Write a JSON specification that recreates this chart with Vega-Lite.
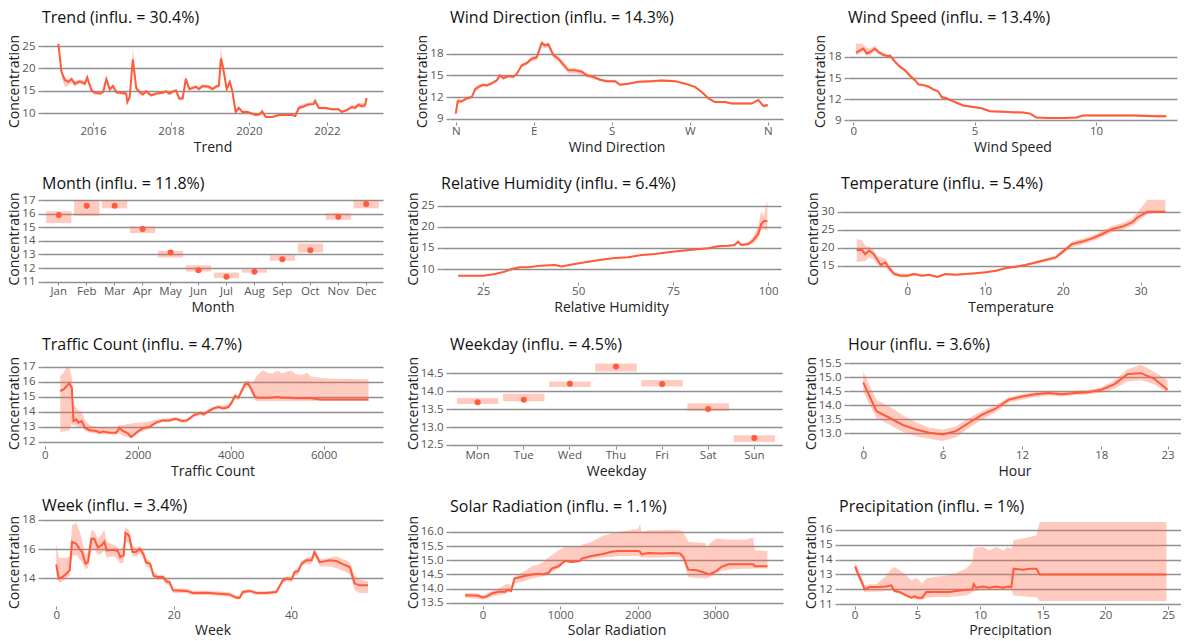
{
"$schema": "https://vega.github.io/schema/vega-lite/v6.json",
"background": "white",
"padding": {"left": 7, "top": 10, "right": 0, "bottom": 0},
"config": {
 "font": "Open Sans",
 "view": {"stroke": null},
 "title": {"fontSize": 16, "fontWeight": "normal", "anchor": "start", "frame": "group", "color": "#111111", "offset": 8},
 "axis": {"labelFontSize": 11.5, "labelColor": "#555555", "titleFontSize": 14, "titleFontWeight": "normal", "titleColor": "#222222", "domain": false, "labelOverlap": false},
 "axisX": {"grid": false, "ticks": true, "tickSize": 3, "tickColor": "#888888", "labelPadding": 0, "titlePadding": 4, "labelAngle": 0},
 "axisY": {"grid": true, "gridColor": "#8f8f8f", "gridWidth": 1.4, "ticks": true, "tickSize": 4, "tickColor": "#8f8f8f", "tickWidth": 1.4, "labelPadding": 3, "titlePadding": 0}
},
"datasets": {
 "trend": [
  {"x":2015.11,"y":25.5,"lo":25.1,"hi":25.8},{"x":2015.19,"y":19.2,"lo":18.0,"hi":19.8},{"x":2015.28,"y":17.4,"lo":15.8,"hi":17.9},{"x":2015.36,"y":17.0,"lo":16.2,"hi":17.6},{"x":2015.45,"y":17.6,"lo":16.8,"hi":18.1},{"x":2015.53,"y":16.6,"lo":16.0,"hi":17.1},{"x":2015.66,"y":17.1,"lo":16.6,"hi":17.6},{"x":2015.79,"y":16.6,"lo":16.1,"hi":17.2},{"x":2015.85,"y":18.0,"lo":17.2,"hi":18.8},{"x":2015.96,"y":15.1,"lo":14.7,"hi":15.6},{"x":2016.04,"y":14.6,"lo":14.2,"hi":15.0},{"x":2016.17,"y":14.4,"lo":14.0,"hi":14.8},{"x":2016.26,"y":14.8,"lo":14.4,"hi":15.2},{"x":2016.34,"y":17.6,"lo":16.8,"hi":18.6},{"x":2016.43,"y":15.3,"lo":14.9,"hi":15.8},{"x":2016.51,"y":16.1,"lo":15.6,"hi":16.6},{"x":2016.6,"y":14.7,"lo":14.3,"hi":15.1},{"x":2016.77,"y":14.5,"lo":14.1,"hi":14.9},{"x":2016.85,"y":14.4,"lo":14.0,"hi":14.8},{"x":2016.88,"y":12.5,"lo":12.1,"hi":13.0},{"x":2016.94,"y":13.6,"lo":13.1,"hi":14.2},{"x":2017.02,"y":22.0,"lo":20.5,"hi":24.8},{"x":2017.11,"y":15.5,"lo":15.0,"hi":16.2},{"x":2017.19,"y":14.8,"lo":14.3,"hi":15.3},{"x":2017.28,"y":14.2,"lo":13.8,"hi":14.7},{"x":2017.36,"y":14.9,"lo":14.5,"hi":15.3},{"x":2017.49,"y":14.0,"lo":13.7,"hi":14.4},{"x":2017.62,"y":14.4,"lo":14.1,"hi":14.7},{"x":2017.79,"y":14.6,"lo":14.3,"hi":14.9},{"x":2017.87,"y":14.9,"lo":14.5,"hi":15.2},{"x":2017.96,"y":14.4,"lo":14.0,"hi":14.8},{"x":2018.04,"y":14.8,"lo":14.4,"hi":15.2},{"x":2018.13,"y":15.1,"lo":14.7,"hi":15.5},{"x":2018.21,"y":13.3,"lo":12.9,"hi":13.7},{"x":2018.3,"y":13.3,"lo":12.9,"hi":13.7},{"x":2018.38,"y":17.7,"lo":16.9,"hi":18.5},{"x":2018.47,"y":15.4,"lo":15.0,"hi":15.9},{"x":2018.64,"y":15.9,"lo":15.5,"hi":16.3},{"x":2018.72,"y":15.4,"lo":15.0,"hi":15.8},{"x":2018.81,"y":16.1,"lo":15.7,"hi":16.5},{"x":2018.98,"y":15.9,"lo":15.5,"hi":16.3},{"x":2019.06,"y":15.4,"lo":15.0,"hi":15.8},{"x":2019.15,"y":15.9,"lo":15.5,"hi":16.3},{"x":2019.23,"y":16.2,"lo":15.8,"hi":16.7},{"x":2019.28,"y":22.2,"lo":20.8,"hi":24.8},{"x":2019.34,"y":20.0,"lo":19.0,"hi":21.2},{"x":2019.43,"y":15.4,"lo":14.9,"hi":16.0},{"x":2019.51,"y":17.0,"lo":16.4,"hi":17.6},{"x":2019.57,"y":15.1,"lo":14.6,"hi":15.6},{"x":2019.66,"y":10.3,"lo":10.0,"hi":10.7},{"x":2019.74,"y":11.2,"lo":10.8,"hi":11.5},{"x":2019.83,"y":10.3,"lo":10.0,"hi":10.6},{"x":2019.96,"y":10.3,"lo":10.0,"hi":10.6},{"x":2020.09,"y":9.9,"lo":9.6,"hi":10.2},{"x":2020.17,"y":9.6,"lo":9.3,"hi":9.9},{"x":2020.26,"y":9.7,"lo":9.4,"hi":10.0},{"x":2020.34,"y":10.4,"lo":9.9,"hi":11.2},{"x":2020.43,"y":9.2,"lo":9.0,"hi":9.4},{"x":2020.6,"y":9.2,"lo":9.0,"hi":9.4},{"x":2020.77,"y":9.6,"lo":9.4,"hi":9.8},{"x":2021.11,"y":9.6,"lo":9.4,"hi":9.8},{"x":2021.19,"y":9.4,"lo":9.2,"hi":9.6},{"x":2021.28,"y":11.2,"lo":10.8,"hi":11.8},{"x":2021.4,"y":11.5,"lo":11.1,"hi":12.0},{"x":2021.49,"y":11.9,"lo":11.5,"hi":12.3},{"x":2021.58,"y":12.0,"lo":11.6,"hi":12.4},{"x":2021.66,"y":12.1,"lo":11.7,"hi":12.5},{"x":2021.7,"y":12.8,"lo":12.3,"hi":13.2},{"x":2021.79,"y":11.2,"lo":10.9,"hi":11.5},{"x":2021.96,"y":11.2,"lo":10.9,"hi":11.5},{"x":2022.13,"y":10.9,"lo":10.6,"hi":11.2},{"x":2022.3,"y":10.9,"lo":10.6,"hi":11.2},{"x":2022.38,"y":10.3,"lo":10.0,"hi":10.6},{"x":2022.51,"y":10.7,"lo":10.4,"hi":11.0},{"x":2022.64,"y":11.4,"lo":11.0,"hi":11.9},{"x":2022.72,"y":11.2,"lo":10.8,"hi":11.7},{"x":2022.81,"y":11.9,"lo":11.4,"hi":12.4},{"x":2022.89,"y":11.6,"lo":11.1,"hi":12.2},{"x":2022.98,"y":11.8,"lo":11.2,"hi":12.4},{"x":2023.02,"y":13.4,"lo":12.8,"hi":13.8}
 ],
 "wdir": [
  {"x":0,"y":9.7,"lo":9.4,"hi":10.2},{"x":2.3,"y":11.4,"lo":11.0,"hi":11.9},{"x":6.9,"y":11.4,"lo":11.2,"hi":11.6},{"x":12.7,"y":11.8,"lo":11.6,"hi":12.0},{"x":18.5,"y":12.0,"lo":11.8,"hi":12.2},{"x":22.3,"y":13.06,"lo":12.7,"hi":13.4},{"x":26.2,"y":13.4,"lo":13.1,"hi":13.7},{"x":31.9,"y":13.7,"lo":13.5,"hi":13.9},{"x":35.8,"y":13.6,"lo":13.4,"hi":13.8},{"x":41.5,"y":13.9,"lo":13.7,"hi":14.1},{"x":47.3,"y":14.3,"lo":14.1,"hi":14.5},{"x":51.2,"y":15.0,"lo":14.7,"hi":15.2},{"x":55,"y":14.6,"lo":14.4,"hi":14.8},{"x":60.8,"y":14.9,"lo":14.7,"hi":15.1},{"x":66.5,"y":14.8,"lo":14.6,"hi":15.0},{"x":70.4,"y":15.2,"lo":15.0,"hi":15.4},{"x":76.2,"y":16.4,"lo":16.1,"hi":16.6},{"x":81.9,"y":16.7,"lo":16.4,"hi":16.9},{"x":87.7,"y":17.3,"lo":17.0,"hi":17.6},{"x":93.5,"y":17.5,"lo":17.1,"hi":17.8},{"x":99.2,"y":19.5,"lo":19.1,"hi":19.8},{"x":103,"y":19.15,"lo":18.8,"hi":19.5},{"x":106.9,"y":19.3,"lo":18.9,"hi":19.6},{"x":112.7,"y":17.8,"lo":17.4,"hi":18.1},{"x":118.5,"y":17.3,"lo":16.9,"hi":17.6},{"x":124.2,"y":16.5,"lo":16.1,"hi":16.9},{"x":130,"y":15.7,"lo":15.3,"hi":16.1},{"x":137.7,"y":15.7,"lo":15.3,"hi":16.0},{"x":145.4,"y":15.5,"lo":15.1,"hi":15.8},{"x":151.2,"y":15.0,"lo":14.7,"hi":15.3},{"x":158.8,"y":14.8,"lo":14.5,"hi":15.0},{"x":166.5,"y":14.4,"lo":14.2,"hi":14.6},{"x":174.2,"y":14.2,"lo":14.0,"hi":14.4},{"x":183.8,"y":14.2,"lo":14.0,"hi":14.4},{"x":189.6,"y":13.7,"lo":13.5,"hi":13.9},{"x":199.2,"y":13.85,"lo":13.7,"hi":14.0},{"x":210.8,"y":14.1,"lo":13.95,"hi":14.25},{"x":226,"y":14.2,"lo":14.05,"hi":14.35},{"x":237.7,"y":14.3,"lo":14.15,"hi":14.45},{"x":253,"y":14.2,"lo":14.05,"hi":14.35},{"x":264.6,"y":13.85,"lo":13.7,"hi":14.0},{"x":276,"y":13.4,"lo":13.25,"hi":13.55},{"x":283.8,"y":12.7,"lo":12.55,"hi":12.85},{"x":291.5,"y":11.8,"lo":11.65,"hi":11.95},{"x":299.2,"y":11.3,"lo":11.15,"hi":11.45},{"x":310.8,"y":11.3,"lo":11.15,"hi":11.45},{"x":318.5,"y":11.1,"lo":10.95,"hi":11.25},{"x":330,"y":11.1,"lo":10.95,"hi":11.25},{"x":341.5,"y":11.1,"lo":10.95,"hi":11.25},{"x":349.2,"y":11.6,"lo":11.4,"hi":11.8},{"x":355,"y":10.75,"lo":10.55,"hi":10.95},{"x":360,"y":10.9,"lo":10.7,"hi":11.1}
 ],
 "wspd": [
  {"x":0.11,"y":18.62,"lo":18.2,"hi":19.9},{"x":0.27,"y":18.95,"lo":18.5,"hi":19.9},{"x":0.41,"y":19.2,"lo":18.8,"hi":19.8},{"x":0.55,"y":18.5,"lo":18.2,"hi":19.3},{"x":0.69,"y":18.7,"lo":18.4,"hi":19.2},{"x":0.89,"y":19.2,"lo":18.9,"hi":19.6},{"x":1.03,"y":18.7,"lo":18.4,"hi":19.0},{"x":1.24,"y":18.3,"lo":18.0,"hi":18.6},{"x":1.44,"y":18.1,"lo":17.9,"hi":18.3},{"x":1.51,"y":18.2,"lo":18.0,"hi":18.4},{"x":1.72,"y":17.3,"lo":17.1,"hi":17.6},{"x":1.92,"y":16.6,"lo":16.4,"hi":16.9},{"x":2.13,"y":16.1,"lo":15.9,"hi":16.3},{"x":2.34,"y":15.3,"lo":15.1,"hi":15.6},{"x":2.54,"y":14.7,"lo":14.5,"hi":14.9},{"x":2.68,"y":14.1,"lo":13.9,"hi":14.3},{"x":2.88,"y":14.0,"lo":13.8,"hi":14.2},{"x":3.09,"y":13.8,"lo":13.6,"hi":14.0},{"x":3.3,"y":13.4,"lo":13.2,"hi":13.6},{"x":3.5,"y":13.1,"lo":12.9,"hi":13.3},{"x":3.64,"y":12.3,"lo":12.1,"hi":12.5},{"x":3.85,"y":12.1,"lo":11.9,"hi":12.3},{"x":4.05,"y":11.8,"lo":11.65,"hi":11.95},{"x":4.26,"y":11.5,"lo":11.35,"hi":11.65},{"x":4.53,"y":11.1,"lo":10.95,"hi":11.25},{"x":4.95,"y":10.9,"lo":10.75,"hi":11.05},{"x":5.29,"y":10.7,"lo":10.55,"hi":10.85},{"x":5.63,"y":10.3,"lo":10.15,"hi":10.45},{"x":6.18,"y":10.2,"lo":10.05,"hi":10.35},{"x":7.0,"y":10.1,"lo":9.95,"hi":10.25},{"x":7.28,"y":9.95,"lo":9.8,"hi":10.1},{"x":7.55,"y":9.4,"lo":9.25,"hi":9.55},{"x":8.1,"y":9.33,"lo":9.2,"hi":9.45},{"x":8.65,"y":9.33,"lo":9.2,"hi":9.45},{"x":9.2,"y":9.4,"lo":9.25,"hi":9.55},{"x":9.48,"y":9.7,"lo":9.55,"hi":9.85},{"x":10.44,"y":9.7,"lo":9.55,"hi":9.85},{"x":11.54,"y":9.7,"lo":9.55,"hi":9.9},{"x":12.5,"y":9.57,"lo":9.4,"hi":9.8},{"x":12.9,"y":9.57,"lo":9.4,"hi":9.8}
 ],
 "month": [
  {"c":"Jan","y":15.9,"lo":15.31,"hi":16.17},{"c":"Feb","y":16.58,"lo":15.85,"hi":16.95},{"c":"Mar","y":16.58,"lo":16.39,"hi":16.95},{"c":"Apr","y":14.87,"lo":14.57,"hi":15.06},{"c":"May","y":13.15,"lo":12.78,"hi":13.27},{"c":"Jun","y":11.85,"lo":11.75,"hi":12.2},{"c":"Jul","y":11.36,"lo":11.26,"hi":11.67},{"c":"Aug","y":11.73,"lo":11.67,"hi":11.9},{"c":"Sep","y":12.66,"lo":12.54,"hi":12.95},{"c":"Oct","y":13.32,"lo":13.15,"hi":13.81},{"c":"Nov","y":15.77,"lo":15.55,"hi":16.02},{"c":"Dec","y":16.7,"lo":16.39,"hi":16.95}
 ],
 "rh": [
  {"x":18.4,"y":8.42,"lo":8.3,"hi":8.55},{"x":21.9,"y":8.42,"lo":8.3,"hi":8.55},{"x":25,"y":8.42,"lo":8.3,"hi":8.55},{"x":28.1,"y":8.8,"lo":8.65,"hi":8.95},{"x":30.7,"y":9.37,"lo":9.2,"hi":9.5},{"x":32.5,"y":10.0,"lo":9.85,"hi":10.15},{"x":34.6,"y":10.4,"lo":10.25,"hi":10.55},{"x":36.8,"y":10.4,"lo":10.25,"hi":10.55},{"x":40.3,"y":10.8,"lo":10.65,"hi":10.95},{"x":43.9,"y":10.95,"lo":10.8,"hi":11.1},{"x":45.6,"y":10.6,"lo":10.45,"hi":10.75},{"x":49.1,"y":11.2,"lo":11.05,"hi":11.35},{"x":52.6,"y":11.7,"lo":11.55,"hi":11.85},{"x":56.1,"y":12.2,"lo":12.05,"hi":12.35},{"x":59.6,"y":12.6,"lo":12.45,"hi":12.75},{"x":63.2,"y":12.8,"lo":12.65,"hi":12.95},{"x":66.7,"y":13.3,"lo":13.15,"hi":13.45},{"x":70.2,"y":13.55,"lo":13.4,"hi":13.7},{"x":73.7,"y":13.95,"lo":13.8,"hi":14.1},{"x":77.2,"y":14.3,"lo":14.15,"hi":14.45},{"x":80.7,"y":14.6,"lo":14.45,"hi":14.75},{"x":84.2,"y":14.9,"lo":14.75,"hi":15.05},{"x":86.8,"y":15.4,"lo":15.2,"hi":15.6},{"x":89.5,"y":15.5,"lo":15.3,"hi":15.7},{"x":91.2,"y":15.7,"lo":15.5,"hi":15.9},{"x":92.1,"y":16.5,"lo":16.1,"hi":16.9},{"x":92.9,"y":15.7,"lo":15.4,"hi":16.0},{"x":94.7,"y":15.9,"lo":15.5,"hi":16.3},{"x":96.0,"y":16.7,"lo":16.0,"hi":17.6},{"x":97.4,"y":18.3,"lo":17.2,"hi":20.0},{"x":98.2,"y":20.7,"lo":19.2,"hi":23.8},{"x":98.9,"y":21.4,"lo":19.5,"hi":22.5},{"x":99.3,"y":21.4,"lo":19.3,"hi":24.5},{"x":99.8,"y":21.4,"lo":19.0,"hi":26.5}
 ],
 "temp": [
  {"x":-6.5,"y":19.35,"lo":16.0,"hi":22.4},{"x":-5.8,"y":19.35,"lo":16.2,"hi":22.0},{"x":-5.4,"y":18.2,"lo":16.3,"hi":20.5},{"x":-4.9,"y":19.2,"lo":17.2,"hi":20.3},{"x":-4.3,"y":18.2,"lo":16.8,"hi":19.3},{"x":-3.9,"y":16.85,"lo":15.6,"hi":17.8},{"x":-3.4,"y":15.2,"lo":14.5,"hi":17.3},{"x":-2.8,"y":15.9,"lo":14.6,"hi":17.0},{"x":-2.4,"y":14.5,"lo":13.6,"hi":15.5},{"x":-1.7,"y":12.7,"lo":12.2,"hi":13.4},{"x":-0.86,"y":12.2,"lo":11.8,"hi":12.8},{"x":0,"y":12.2,"lo":11.8,"hi":12.7},{"x":0.86,"y":12.7,"lo":12.3,"hi":13.1},{"x":1.9,"y":12.2,"lo":11.9,"hi":12.6},{"x":2.8,"y":12.5,"lo":12.2,"hi":12.8},{"x":3.9,"y":11.9,"lo":11.6,"hi":12.2},{"x":4.9,"y":12.7,"lo":12.4,"hi":13.0},{"x":6.2,"y":12.5,"lo":12.2,"hi":12.8},{"x":7.5,"y":12.7,"lo":12.4,"hi":13.0},{"x":8.8,"y":12.9,"lo":12.6,"hi":13.2},{"x":10.1,"y":13.15,"lo":12.85,"hi":13.45},{"x":11.4,"y":13.6,"lo":13.3,"hi":13.9},{"x":12.6,"y":14.3,"lo":14.0,"hi":14.6},{"x":13.9,"y":14.7,"lo":14.4,"hi":15.0},{"x":15.2,"y":15.2,"lo":14.9,"hi":15.5},{"x":16.5,"y":15.9,"lo":15.5,"hi":16.3},{"x":17.8,"y":16.6,"lo":16.2,"hi":17.0},{"x":19.1,"y":17.3,"lo":16.8,"hi":17.8},{"x":19.9,"y":18.7,"lo":18.1,"hi":19.3},{"x":21.2,"y":21.0,"lo":20.2,"hi":21.7},{"x":22.5,"y":21.7,"lo":20.9,"hi":22.5},{"x":23.8,"y":22.6,"lo":21.8,"hi":23.4},{"x":25.1,"y":23.8,"lo":23.0,"hi":24.7},{"x":26.4,"y":25.2,"lo":24.3,"hi":26.1},{"x":27.6,"y":25.8,"lo":24.9,"hi":26.8},{"x":28.9,"y":27.0,"lo":26.0,"hi":28.0},{"x":29.6,"y":28.4,"lo":27.2,"hi":29.8},{"x":30.9,"y":30.0,"lo":29.3,"hi":33.3},{"x":33.2,"y":30.0,"lo":30.0,"hi":33.3}
 ],
 "traffic": [
  {"x":333,"y":15.38,"lo":12.6,"hi":16.38},{"x":404,"y":15.49,"lo":12.7,"hi":16.6},{"x":475,"y":15.71,"lo":12.7,"hi":17.0},{"x":525,"y":15.9,"lo":12.8,"hi":17.0},{"x":582,"y":15.6,"lo":13.2,"hi":16.3},{"x":617,"y":13.38,"lo":13.04,"hi":14.49},{"x":674,"y":13.49,"lo":13.1,"hi":14.3},{"x":723,"y":13.27,"lo":13.0,"hi":14.1},{"x":794,"y":13.38,"lo":13.0,"hi":14.0},{"x":865,"y":12.93,"lo":12.75,"hi":13.4},{"x":972,"y":12.76,"lo":12.6,"hi":13.1},{"x":1113,"y":12.71,"lo":12.53,"hi":12.98},{"x":1184,"y":12.6,"lo":12.5,"hi":12.9},{"x":1255,"y":12.67,"lo":12.5,"hi":12.95},{"x":1397,"y":12.6,"lo":12.5,"hi":12.95},{"x":1539,"y":12.6,"lo":12.5,"hi":12.95},{"x":1610,"y":12.93,"lo":12.55,"hi":13.1},{"x":1681,"y":12.71,"lo":12.4,"hi":13.1},{"x":1787,"y":12.56,"lo":12.3,"hi":13.2},{"x":1858,"y":12.31,"lo":12.25,"hi":13.2},{"x":1929,"y":12.49,"lo":12.35,"hi":13.25},{"x":2035,"y":12.76,"lo":12.6,"hi":13.27},{"x":2106,"y":12.89,"lo":12.7,"hi":13.3},{"x":2248,"y":12.98,"lo":12.85,"hi":13.35},{"x":2390,"y":13.27,"lo":13.15,"hi":13.45},{"x":2532,"y":13.42,"lo":13.3,"hi":13.55},{"x":2674,"y":13.42,"lo":13.3,"hi":13.55},{"x":2816,"y":13.53,"lo":13.42,"hi":13.65},{"x":2957,"y":13.38,"lo":13.27,"hi":13.5},{"x":3064,"y":13.42,"lo":13.3,"hi":13.55},{"x":3206,"y":13.76,"lo":13.65,"hi":13.9},{"x":3348,"y":13.93,"lo":13.8,"hi":14.05},{"x":3418,"y":13.82,"lo":13.7,"hi":13.95},{"x":3525,"y":14.04,"lo":13.92,"hi":14.16},{"x":3631,"y":14.22,"lo":14.1,"hi":14.35},{"x":3738,"y":14.31,"lo":14.2,"hi":14.45},{"x":3844,"y":14.22,"lo":14.1,"hi":14.4},{"x":3950,"y":14.31,"lo":14.2,"hi":14.5},{"x":4021,"y":14.6,"lo":14.45,"hi":14.8},{"x":4092,"y":15.04,"lo":14.9,"hi":15.25},{"x":4163,"y":14.93,"lo":14.8,"hi":15.1},{"x":4220,"y":15.27,"lo":15.1,"hi":15.5},{"x":4305,"y":15.82,"lo":15.6,"hi":16.04},{"x":4376,"y":15.87,"lo":15.65,"hi":16.1},{"x":4447,"y":15.49,"lo":15.2,"hi":15.9},{"x":4518,"y":15.04,"lo":14.8,"hi":16.16},{"x":4560,"y":14.95,"lo":14.71,"hi":16.38},{"x":4624,"y":14.93,"lo":14.71,"hi":16.6},{"x":4700,"y":14.93,"lo":14.71,"hi":16.76},{"x":4801,"y":14.93,"lo":14.71,"hi":16.6},{"x":4900,"y":14.95,"lo":14.71,"hi":16.55},{"x":5014,"y":14.98,"lo":14.71,"hi":16.75},{"x":5100,"y":14.93,"lo":14.71,"hi":16.55},{"x":5298,"y":14.93,"lo":14.71,"hi":16.75},{"x":5400,"y":14.9,"lo":14.71,"hi":16.5},{"x":5511,"y":14.89,"lo":14.71,"hi":16.45},{"x":5650,"y":14.89,"lo":14.71,"hi":16.6},{"x":5723,"y":14.89,"lo":14.71,"hi":16.35},{"x":5936,"y":14.82,"lo":14.71,"hi":16.25},{"x":6220,"y":14.82,"lo":14.71,"hi":16.2},{"x":6965,"y":14.82,"lo":14.71,"hi":16.16}
 ],
 "weekday": [
  {"c":"Mon","y":13.69,"lo":13.64,"hi":13.81},{"c":"Tue","y":13.76,"lo":13.72,"hi":13.93},{"c":"Wed","y":14.21,"lo":14.12,"hi":14.27},{"c":"Thu","y":14.69,"lo":14.55,"hi":14.77},{"c":"Fri","y":14.2,"lo":14.13,"hi":14.31},{"c":"Sat","y":13.5,"lo":13.45,"hi":13.66},{"c":"Sun","y":12.69,"lo":12.58,"hi":12.77}
 ],
 "hour": [
  {"x":0,"y":14.82,"lo":14.5,"hi":15.2},{"x":1,"y":13.79,"lo":13.55,"hi":14.2},{"x":2,"y":13.55,"lo":13.3,"hi":13.95},{"x":3,"y":13.3,"lo":13.05,"hi":13.65},{"x":4,"y":13.14,"lo":12.9,"hi":13.4},{"x":5,"y":13.02,"lo":12.8,"hi":13.2},{"x":6,"y":12.96,"lo":12.73,"hi":13.14},{"x":7,"y":13.08,"lo":12.85,"hi":13.25},{"x":8,"y":13.38,"lo":13.2,"hi":13.55},{"x":9,"y":13.67,"lo":13.5,"hi":13.8},{"x":10,"y":13.88,"lo":13.75,"hi":14.0},{"x":11,"y":14.2,"lo":14.1,"hi":14.3},{"x":12,"y":14.32,"lo":14.2,"hi":14.4},{"x":13,"y":14.4,"lo":14.3,"hi":14.48},{"x":14,"y":14.44,"lo":14.35,"hi":14.52},{"x":15,"y":14.4,"lo":14.32,"hi":14.48},{"x":16,"y":14.44,"lo":14.36,"hi":14.52},{"x":17,"y":14.47,"lo":14.4,"hi":14.55},{"x":18,"y":14.56,"lo":14.45,"hi":14.65},{"x":19,"y":14.76,"lo":14.6,"hi":14.9},{"x":20,"y":15.12,"lo":14.85,"hi":15.3},{"x":21,"y":15.15,"lo":14.9,"hi":15.45},{"x":22,"y":14.95,"lo":14.75,"hi":15.2},{"x":23,"y":14.56,"lo":14.45,"hi":14.9}
 ],
 "week": [
  {"x":0,"y":14.95,"lo":14.2,"hi":16.4},{"x":0.45,"y":13.98,"lo":13.7,"hi":15.4},{"x":1.1,"y":14.1,"lo":13.8,"hi":15.4},{"x":1.7,"y":14.3,"lo":14.0,"hi":15.4},{"x":2.3,"y":14.55,"lo":14.2,"hi":15.5},{"x":2.7,"y":16.5,"lo":15.5,"hi":17.6},{"x":3.4,"y":16.36,"lo":15.6,"hi":17.8},{"x":4.0,"y":16.0,"lo":15.3,"hi":17.2},{"x":4.4,"y":15.8,"lo":15.1,"hi":16.6},{"x":5.0,"y":15.0,"lo":14.6,"hi":15.6},{"x":5.4,"y":15.1,"lo":14.7,"hi":15.8},{"x":6.0,"y":16.7,"lo":15.9,"hi":17.3},{"x":6.5,"y":16.7,"lo":16.0,"hi":17.2},{"x":7.1,"y":16.1,"lo":15.6,"hi":16.7},{"x":7.7,"y":16.25,"lo":15.7,"hi":17.0},{"x":8.2,"y":16.5,"lo":15.9,"hi":17.3},{"x":8.6,"y":15.9,"lo":15.4,"hi":16.5},{"x":9.7,"y":15.95,"lo":15.5,"hi":16.3},{"x":10.5,"y":15.86,"lo":15.3,"hi":16.1},{"x":10.9,"y":15.45,"lo":15.0,"hi":15.9},{"x":11.5,"y":15.57,"lo":15.1,"hi":16.3},{"x":11.8,"y":17.1,"lo":16.5,"hi":17.5},{"x":12.4,"y":16.93,"lo":16.4,"hi":17.3},{"x":13.0,"y":15.8,"lo":15.5,"hi":16.2},{"x":13.6,"y":15.8,"lo":15.5,"hi":16.1},{"x":14.2,"y":16.0,"lo":15.7,"hi":16.2},{"x":14.8,"y":15.7,"lo":15.4,"hi":16.0},{"x":15.3,"y":15.1,"lo":14.8,"hi":15.4},{"x":16.0,"y":15.0,"lo":14.7,"hi":15.2},{"x":16.6,"y":14.16,"lo":13.95,"hi":14.4},{"x":17.3,"y":14.09,"lo":13.9,"hi":14.25},{"x":18.2,"y":14.09,"lo":13.9,"hi":14.25},{"x":18.75,"y":13.8,"lo":13.6,"hi":14.0},{"x":19.3,"y":13.75,"lo":13.55,"hi":13.9},{"x":19.9,"y":13.18,"lo":13.0,"hi":13.3},{"x":22.2,"y":13.14,"lo":13.0,"hi":13.3},{"x":23.3,"y":13.0,"lo":12.85,"hi":13.15},{"x":25.6,"y":13.02,"lo":12.87,"hi":13.15},{"x":27.8,"y":12.95,"lo":12.8,"hi":13.1},{"x":29.5,"y":12.9,"lo":12.75,"hi":13.05},{"x":30.7,"y":12.68,"lo":12.55,"hi":12.8},{"x":31.25,"y":12.68,"lo":12.55,"hi":12.85},{"x":31.8,"y":13.07,"lo":12.95,"hi":13.2},{"x":33.0,"y":13.14,"lo":13.0,"hi":13.25},{"x":34.1,"y":13.0,"lo":12.88,"hi":13.12},{"x":35.8,"y":13.0,"lo":12.88,"hi":13.12},{"x":37.5,"y":13.07,"lo":12.95,"hi":13.2},{"x":38.6,"y":13.86,"lo":13.7,"hi":14.05},{"x":39.2,"y":13.98,"lo":13.8,"hi":14.1},{"x":40.1,"y":13.93,"lo":13.75,"hi":14.1},{"x":40.6,"y":14.43,"lo":14.2,"hi":14.6},{"x":41.2,"y":14.48,"lo":14.25,"hi":14.7},{"x":41.8,"y":15.0,"lo":14.8,"hi":15.2},{"x":42.6,"y":15.23,"lo":15.0,"hi":15.4},{"x":43.5,"y":15.23,"lo":15.0,"hi":15.5},{"x":44.0,"y":15.8,"lo":15.5,"hi":16.0},{"x":44.9,"y":15.1,"lo":14.8,"hi":15.3},{"x":46.6,"y":15.23,"lo":14.8,"hi":15.4},{"x":47.7,"y":15.18,"lo":14.7,"hi":15.5},{"x":48.9,"y":14.95,"lo":14.5,"hi":15.3},{"x":50.0,"y":14.77,"lo":14.3,"hi":15.1},{"x":50.85,"y":13.64,"lo":13.2,"hi":14.2},{"x":51.7,"y":13.52,"lo":13.0,"hi":13.9},{"x":53.1,"y":13.52,"lo":13.0,"hi":13.8}
 ],
 "solar": [
  {"x":-223,"y":13.77,"lo":13.68,"hi":13.85},{"x":-94,"y":13.76,"lo":13.66,"hi":13.84},{"x":-51,"y":13.75,"lo":13.64,"hi":13.83},{"x":0,"y":13.69,"lo":13.62,"hi":13.75},{"x":56,"y":13.73,"lo":13.64,"hi":13.82},{"x":120,"y":13.83,"lo":13.72,"hi":13.92},{"x":206,"y":13.89,"lo":13.78,"hi":14.0},{"x":292,"y":13.89,"lo":13.8,"hi":14.15},{"x":335,"y":13.97,"lo":13.88,"hi":14.18},{"x":369,"y":13.92,"lo":13.9,"hi":14.1},{"x":412,"y":14.36,"lo":14.18,"hi":14.42},{"x":528,"y":14.44,"lo":14.25,"hi":14.6},{"x":635,"y":14.5,"lo":14.36,"hi":14.79},{"x":721,"y":14.53,"lo":14.4,"hi":14.85},{"x":785,"y":14.51,"lo":14.45,"hi":14.95},{"x":850,"y":14.56,"lo":14.5,"hi":15.1},{"x":892,"y":14.71,"lo":14.6,"hi":15.18},{"x":978,"y":14.79,"lo":14.7,"hi":15.35},{"x":1064,"y":14.98,"lo":14.94,"hi":15.47},{"x":1150,"y":14.94,"lo":14.9,"hi":15.47},{"x":1257,"y":14.98,"lo":14.94,"hi":15.47},{"x":1278,"y":15.06,"lo":14.98,"hi":15.55},{"x":1407,"y":15.15,"lo":15.05,"hi":15.65},{"x":1536,"y":15.21,"lo":15.1,"hi":15.85},{"x":1665,"y":15.3,"lo":15.12,"hi":15.95},{"x":1750,"y":15.33,"lo":15.15,"hi":16.0},{"x":1879,"y":15.33,"lo":15.15,"hi":16.05},{"x":2008,"y":15.33,"lo":15.15,"hi":16.1},{"x":2030,"y":15.3,"lo":15.12,"hi":16.3},{"x":2050,"y":15.21,"lo":15.1,"hi":16.0},{"x":2136,"y":15.26,"lo":15.1,"hi":16.06},{"x":2308,"y":15.24,"lo":15.1,"hi":16.06},{"x":2437,"y":15.26,"lo":15.12,"hi":16.08},{"x":2544,"y":15.24,"lo":15.1,"hi":16.06},{"x":2587,"y":15.12,"lo":15.0,"hi":16.0},{"x":2651,"y":14.67,"lo":14.41,"hi":15.65},{"x":2759,"y":14.65,"lo":14.38,"hi":15.63},{"x":2866,"y":14.56,"lo":14.36,"hi":15.61},{"x":2900,"y":14.52,"lo":14.38,"hi":15.41},{"x":2930,"y":14.51,"lo":14.4,"hi":15.6},{"x":3016,"y":14.63,"lo":14.55,"hi":15.77},{"x":3080,"y":14.77,"lo":14.62,"hi":15.75},{"x":3166,"y":14.86,"lo":14.67,"hi":15.73},{"x":3380,"y":14.86,"lo":14.7,"hi":15.72},{"x":3488,"y":14.86,"lo":14.7,"hi":15.8},{"x":3509,"y":14.79,"lo":14.71,"hi":15.35},{"x":3672,"y":14.79,"lo":14.71,"hi":15.33}
 ],
 "precip": [
  {"x":0.05,"y":13.54,"lo":13.28,"hi":13.84},{"x":0.27,"y":13.05,"lo":12.8,"hi":13.4},{"x":0.53,"y":12.6,"lo":12.3,"hi":12.9},{"x":0.8,"y":12.0,"lo":11.83,"hi":12.3},{"x":1.2,"y":12.16,"lo":11.85,"hi":12.35},{"x":1.73,"y":12.16,"lo":11.85,"hi":12.35},{"x":2.53,"y":12.2,"lo":11.9,"hi":12.9},{"x":2.93,"y":12.27,"lo":11.95,"hi":13.39},{"x":3.19,"y":11.89,"lo":11.85,"hi":13.5},{"x":3.59,"y":11.83,"lo":11.7,"hi":13.3},{"x":4.12,"y":11.6,"lo":11.5,"hi":12.94},{"x":4.52,"y":11.45,"lo":11.38,"hi":12.6},{"x":4.79,"y":11.54,"lo":11.35,"hi":12.75},{"x":5.05,"y":11.45,"lo":11.31,"hi":12.7},{"x":5.4,"y":11.45,"lo":11.31,"hi":12.38},{"x":5.72,"y":11.83,"lo":11.45,"hi":12.75},{"x":6.5,"y":11.83,"lo":11.49,"hi":12.85},{"x":7.58,"y":11.83,"lo":11.5,"hi":12.94},{"x":8.1,"y":11.89,"lo":11.55,"hi":13.1},{"x":8.9,"y":11.98,"lo":11.6,"hi":13.4},{"x":9.39,"y":12.0,"lo":11.8,"hi":13.84},{"x":9.5,"y":12.34,"lo":11.85,"hi":14.73},{"x":9.7,"y":12.12,"lo":11.9,"hi":14.8},{"x":10.24,"y":12.2,"lo":11.94,"hi":14.84},{"x":10.77,"y":12.12,"lo":11.94,"hi":14.6},{"x":11.3,"y":12.2,"lo":11.94,"hi":14.84},{"x":11.84,"y":12.12,"lo":11.94,"hi":14.6},{"x":12.23,"y":12.2,"lo":11.94,"hi":14.84},{"x":12.5,"y":12.16,"lo":11.94,"hi":14.7},{"x":12.69,"y":13.39,"lo":11.6,"hi":15.29},{"x":13.43,"y":13.32,"lo":11.55,"hi":15.4},{"x":13.96,"y":13.39,"lo":11.5,"hi":15.5},{"x":14.5,"y":13.39,"lo":11.49,"hi":15.62},{"x":14.76,"y":13.0,"lo":11.22,"hi":16.51},{"x":24.87,"y":13.0,"lo":11.22,"hi":16.51}
 ]
},
"spacing": 20,
"vconcat": [
 {"bounds": "flush", "spacing": 67, "hconcat": [
  {"title": {"text": "Trend (influ. = 30.4%)", "offset": 8}, "width": 341, "height": 82, "data": {"name": "trend"},
   "encoding": {"x": {"field": "x", "type": "quantitative", "title": "Trend", "scale": {"domain": [2014.69, 2023.44], "nice": false, "zero": false}, "axis": {"values": [2016, 2018, 2020, 2022], "format": "d"}}},
   "layer": [
    {"mark": {"type": "area", "color": "#FF6B4A", "opacity": 0.35}, "encoding": {"y": {"field": "lo", "type": "quantitative", "title": "Concentration", "scale": {"domain": [8.06, 26.34], "nice": false, "zero": false}, "axis": {"values": [10, 15, 20, 25]}}, "y2": {"field": "hi"}}},
    {"mark": {"type": "line", "color": "#FF5A3A", "strokeWidth": 2}, "encoding": {"y": {"field": "y", "type": "quantitative", "title": "Concentration", "scale": {"domain": [8.06, 26.34], "nice": false, "zero": false}, "axis": {"values": [10, 15, 20, 25]}}}}
   ]},
  {"bounds": "flush", "spacing": 65, "hconcat": [
   {"title": {"text": "Wind Direction (influ. = 14.3%)", "offset": 8}, "width": 333, "height": 82, "data": {"name": "wdir"},
    "encoding": {"x": {"field": "x", "type": "quantitative", "title": "Wind Direction", "scale": {"domain": [-6.6, 377.6], "nice": false, "zero": false}, "axis": {"values": [0, 90, 180, 270, 360], "labelExpr": "datum.value == 90 ? 'E' : datum.value == 180 ? 'S' : datum.value == 270 ? 'W' : 'N'"}}},
    "layer": [
     {"mark": {"type": "area", "color": "#FF6B4A", "opacity": 0.35}, "encoding": {"y": {"field": "lo", "type": "quantitative", "title": "Concentration", "scale": {"domain": [8.54, 19.9], "nice": false, "zero": false}, "axis": {"values": [9, 12, 15, 18]}}, "y2": {"field": "hi"}}},
     {"mark": {"type": "line", "color": "#FF5A3A", "strokeWidth": 2}, "encoding": {"y": {"field": "y", "type": "quantitative", "title": "Concentration", "scale": {"domain": [8.54, 19.9], "nice": false, "zero": false}, "axis": {"values": [9, 12, 15, 18]}}}}
    ]},
   {"title": {"text": "Wind Speed (influ. = 13.4%)", "offset": 8}, "width": 329, "height": 82, "data": {"name": "wspd"},
    "encoding": {"x": {"field": "x", "type": "quantitative", "title": "Wind Speed", "scale": {"domain": [-0.22, 13.34], "nice": false, "zero": false}, "axis": {"values": [0, 5, 10]}}},
    "layer": [
     {"mark": {"type": "area", "color": "#FF6B4A", "opacity": 0.35}, "encoding": {"y": {"field": "lo", "type": "quantitative", "title": "Concentration", "scale": {"domain": [8.76, 20.41], "nice": false, "zero": false}, "axis": {"values": [9, 12, 15, 18]}}, "y2": {"field": "hi"}}},
     {"mark": {"type": "line", "color": "#FF5A3A", "strokeWidth": 2}, "encoding": {"y": {"field": "y", "type": "quantitative", "title": "Concentration", "scale": {"domain": [8.76, 20.41], "nice": false, "zero": false}, "axis": {"values": [9, 12, 15, 18]}}}}
    ]}
  ]}
 ]},
 {"spacing": 22, "vconcat": [
 {"bounds": "flush", "spacing": 58, "hconcat": [
  {"title": {"text": "Month (influ. = 11.8%)", "offset": 0}, "width": 341, "height": 87, "data": {"name": "month"},
   "encoding": {"x": {"field": "c", "type": "nominal", "sort": null, "title": "Month", "scale": {"paddingInner": 0.1, "paddingOuter": 0.15}}},
   "layer": [
    {"mark": {"type": "bar", "color": "#FF6B4A", "opacity": 0.35}, "encoding": {"y": {"field": "lo", "type": "quantitative", "title": "Concentration", "scale": {"domain": [10.98, 17.37], "nice": false, "zero": false}, "axis": {"values": [11, 12, 13, 14, 15, 16, 17]}}, "y2": {"field": "hi"}}},
    {"mark": {"type": "circle", "color": "#FF5A3A", "opacity": 1, "size": 36}, "encoding": {"y": {"field": "y", "type": "quantitative", "title": "Concentration", "scale": {"domain": [10.98, 17.37], "nice": false, "zero": false}, "axis": {"values": [11, 12, 13, 14, 15, 16, 17]}}}}
   ]},
  {"bounds": "flush", "spacing": 60, "hconcat": [
   {"title": {"text": "Relative Humidity (influ. = 6.4%)", "offset": 0}, "width": 340, "height": 87, "data": {"name": "rh"},
    "encoding": {"x": {"field": "x", "type": "quantitative", "title": "Relative Humidity", "scale": {"domain": [13.9, 103.4], "nice": false, "zero": false}, "axis": {"values": [25, 50, 75, 100]}}},
    "layer": [
     {"mark": {"type": "area", "color": "#FF6B4A", "opacity": 0.35}, "encoding": {"y": {"field": "lo", "type": "quantitative", "title": "Concentration", "scale": {"domain": [6.92, 27.54], "nice": false, "zero": false}, "axis": {"values": [10, 15, 20, 25]}}, "y2": {"field": "hi"}}},
     {"mark": {"type": "line", "color": "#FF5A3A", "strokeWidth": 2}, "encoding": {"y": {"field": "y", "type": "quantitative", "title": "Concentration", "scale": {"domain": [6.92, 27.54], "nice": false, "zero": false}, "axis": {"values": [10, 15, 20, 25]}}}}
    ]},
   {"title": {"text": "Temperature (influ. = 5.4%)", "offset": 0}, "width": 339, "height": 87, "data": {"name": "temp"},
    "encoding": {"x": {"field": "x", "type": "quantitative", "title": "Temperature", "scale": {"domain": [-8.52, 35.08], "nice": false, "zero": false}, "axis": {"values": [0, 10, 20, 30]}}},
    "layer": [
     {"mark": {"type": "area", "color": "#FF6B4A", "opacity": 0.35}, "encoding": {"y": {"field": "lo", "type": "quantitative", "title": "Concentration", "scale": {"domain": [10.47, 34.64], "nice": false, "zero": false}, "axis": {"values": [15, 20, 25, 30]}}, "y2": {"field": "hi"}}},
     {"mark": {"type": "line", "color": "#FF5A3A", "strokeWidth": 2}, "encoding": {"y": {"field": "y", "type": "quantitative", "title": "Concentration", "scale": {"domain": [10.47, 34.64], "nice": false, "zero": false}, "axis": {"values": [15, 20, 25, 30]}}}}
    ]}
  ]}
 ]},
 {"spacing": 18, "vconcat": [
 {"bounds": "flush", "spacing": 67, "hconcat": [
  {"title": {"text": "Traffic Count (influ. = 4.7%)", "offset": 3}, "width": 341, "height": 86, "data": {"name": "traffic"},
   "encoding": {"x": {"field": "x", "type": "quantitative", "title": "Traffic Count", "scale": {"domain": [-60, 7277], "nice": false, "zero": false}, "axis": {"values": [0, 2000, 4000, 6000], "format": "d"}}},
   "layer": [
    {"mark": {"type": "area", "color": "#FF6B4A", "opacity": 0.35}, "encoding": {"y": {"field": "lo", "type": "quantitative", "title": "Concentration", "scale": {"domain": [11.71, 17.45], "nice": false, "zero": false}, "axis": {"values": [12, 13, 14, 15, 16, 17]}}, "y2": {"field": "hi"}}},
    {"mark": {"type": "line", "color": "#FF5A3A", "strokeWidth": 2}, "encoding": {"y": {"field": "y", "type": "quantitative", "title": "Concentration", "scale": {"domain": [11.71, 17.45], "nice": false, "zero": false}, "axis": {"values": [12, 13, 14, 15, 16, 17]}}}}
   ]},
  {"bounds": "flush", "spacing": 66, "hconcat": [
   {"title": {"text": "Weekday (influ. = 4.5%)", "offset": 3}, "width": 332, "height": 86, "data": {"name": "weekday"},
    "encoding": {"x": {"field": "c", "type": "nominal", "sort": null, "title": "Weekday", "scale": {"paddingInner": 0.1, "paddingOuter": 0.15}}},
    "layer": [
     {"mark": {"type": "bar", "color": "#FF6B4A", "opacity": 0.35}, "encoding": {"y": {"field": "lo", "type": "quantitative", "title": "Concentration", "scale": {"domain": [12.47, 14.87], "nice": false, "zero": false}, "axis": {"values": [12.5, 13, 13.5, 14, 14.5], "format": ".1f"}}, "y2": {"field": "hi"}}},
     {"mark": {"type": "circle", "color": "#FF5A3A", "opacity": 1, "size": 36}, "encoding": {"y": {"field": "y", "type": "quantitative", "title": "Concentration", "scale": {"domain": [12.47, 14.87], "nice": false, "zero": false}, "axis": {"values": [12.5, 13, 13.5, 14, 14.5], "format": ".1f"}}}}
    ]},
   {"title": {"text": "Hour (influ. = 3.6%)", "offset": 3}, "width": 333, "height": 86, "data": {"name": "hour"},
    "encoding": {"x": {"field": "x", "type": "quantitative", "title": "Hour", "scale": {"domain": [-1.15, 24.02], "nice": false, "zero": false}, "axis": {"values": [0, 6, 12, 18, 23]}}},
    "layer": [
     {"mark": {"type": "area", "color": "#FF6B4A", "opacity": 0.35}, "encoding": {"y": {"field": "lo", "type": "quantitative", "title": "Concentration", "scale": {"domain": [12.55, 15.62], "nice": false, "zero": false}, "axis": {"values": [13, 13.5, 14, 14.5, 15, 15.5], "format": ".1f"}}, "y2": {"field": "hi"}}},
     {"mark": {"type": "line", "color": "#FF5A3A", "strokeWidth": 2}, "encoding": {"y": {"field": "y", "type": "quantitative", "title": "Concentration", "scale": {"domain": [12.55, 15.62], "nice": false, "zero": false}, "axis": {"values": [13, 13.5, 14, 14.5, 15, 15.5], "format": ".1f"}}}}
    ]}
  ]}
 ]},
 {"bounds": "flush", "spacing": 67, "hconcat": [
  {"title": {"text": "Week (influ. = 3.4%)", "offset": 0}, "width": 341, "height": 88, "data": {"name": "week"},
   "encoding": {"x": {"field": "x", "type": "quantitative", "title": "Week", "scale": {"domain": [-2.42, 55.66], "nice": false, "zero": false}, "axis": {"values": [0, 20, 40], "titlePadding": 3}}},
   "layer": [
    {"mark": {"type": "area", "color": "#FF6B4A", "opacity": 0.35}, "encoding": {"y": {"field": "lo", "type": "quantitative", "title": "Concentration", "scale": {"domain": [12.11, 18.12], "nice": false, "zero": false}, "axis": {"values": [14, 16, 18]}}, "y2": {"field": "hi"}}},
    {"mark": {"type": "line", "color": "#FF5A3A", "strokeWidth": 2}, "encoding": {"y": {"field": "y", "type": "quantitative", "title": "Concentration", "scale": {"domain": [12.11, 18.12], "nice": false, "zero": false}, "axis": {"values": [14, 16, 18]}}}}
   ]},
  {"bounds": "flush", "spacing": 56, "hconcat": [
   {"title": {"text": "Solar Radiation (influ. = 1.1%)", "offset": 0}, "width": 333, "height": 88, "data": {"name": "solar"},
    "encoding": {"x": {"field": "x", "type": "quantitative", "title": "Solar Radiation", "scale": {"domain": [-419, 3872], "nice": false, "zero": false}, "axis": {"values": [0, 1000, 2000, 3000], "format": "d", "titlePadding": 3}}},
    "layer": [
     {"mark": {"type": "area", "color": "#FF6B4A", "opacity": 0.35}, "encoding": {"y": {"field": "lo", "type": "quantitative", "title": "Concentration", "scale": {"domain": [13.39, 16.49], "nice": false, "zero": false}, "axis": {"values": [13.5, 14, 14.5, 15, 15.5, 16], "format": ".1f"}}, "y2": {"field": "hi"}}},
     {"mark": {"type": "line", "color": "#FF5A3A", "strokeWidth": 2}, "encoding": {"y": {"field": "y", "type": "quantitative", "title": "Concentration", "scale": {"domain": [13.39, 16.49], "nice": false, "zero": false}, "axis": {"values": [13.5, 14, 14.5, 15, 15.5, 16], "format": ".1f"}}}}
    ]},
   {"title": {"text": "Precipitation (influ. = 1%)", "offset": 0}, "width": 342, "height": 88, "data": {"name": "precip"},
    "encoding": {"x": {"field": "x", "type": "quantitative", "title": "Precipitation", "scale": {"domain": [-1.24, 26.03], "nice": false, "zero": false}, "axis": {"values": [0, 5, 10, 15, 20, 25], "titlePadding": 3}}},
    "layer": [
     {"mark": {"type": "area", "color": "#FF6B4A", "opacity": 0.35}, "encoding": {"y": {"field": "lo", "type": "quantitative", "title": "Concentration", "scale": {"domain": [10.89, 16.78], "nice": false, "zero": false}, "axis": {"values": [11, 12, 13, 14, 15, 16]}}, "y2": {"field": "hi"}}},
     {"mark": {"type": "line", "color": "#FF5A3A", "strokeWidth": 2}, "encoding": {"y": {"field": "y", "type": "quantitative", "title": "Concentration", "scale": {"domain": [10.89, 16.78], "nice": false, "zero": false}, "axis": {"values": [11, 12, 13, 14, 15, 16]}}}}
    ]}
  ]}
 ]}
 ]}
 ]}
]
}
